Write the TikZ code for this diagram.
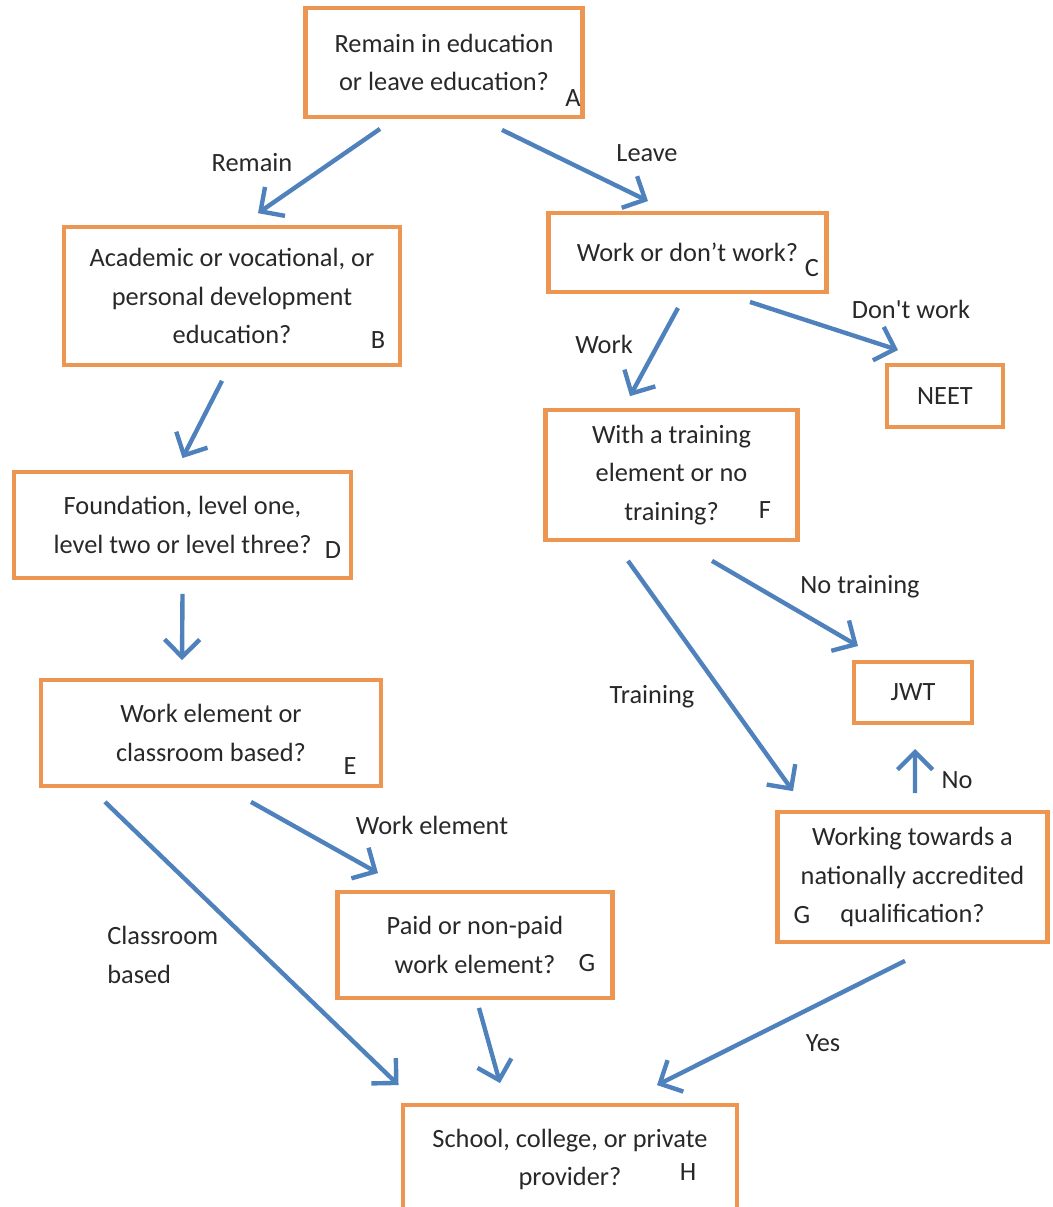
\documentclass[tikz,border=0pt]{standalone}
\usepackage{fontspec}
\setmainfont{Carlito}
\usetikzlibrary{arrows.meta}
\definecolor{BoxOrange}{RGB}{236,150,82}
\definecolor{ArrowBlue}{RGB}{79,129,189}
\definecolor{TextGray}{RGB}{40,40,40}
\tikzset{
	box/.style={draw=BoxOrange,line width=2.4pt,align=center,inner sep=0pt,
		text=TextGray,font=\fontsize{15}{22}\selectfont},
	tag/.style={text=TextGray,font=\fontsize{15}{22}\selectfont,inner sep=0pt},
	arr/.style={draw=ArrowBlue,line width=2.5pt,-{Straight Barb[length=10pt,width=20pt]}},
}
\begin{document}
\begin{tikzpicture}[x=0.02cm,y=-0.02cm]
	\useasboundingbox (0,0) rectangle (1053,1207);
	% boxes
	\node[box,minimum width=278*0.567pt,minimum height=109*0.567pt] (A) at (444,62.5) {Remain in education\\or leave education?};
	\node[box,minimum width=338*0.567pt,minimum height=138*0.567pt] (B) at (232,296) {Academic or vocational, or\\personal development\\education?};
	\node[box,minimum width=279*0.567pt,minimum height=79*0.567pt] (C) at (687.5,252.5) {Work or don’t work?};
	\node[box,minimum width=116*0.567pt,minimum height=62*0.567pt] (NEET) at (945,396) {NEET};
	\node[box,minimum width=339*0.567pt,minimum height=106*0.567pt] (D) at (182.5,525) {Foundation, level one,\\level two or level three?};
	\node[box,minimum width=253*0.567pt,minimum height=130*0.567pt] (F) at (671.5,475) {With a training\\element or no\\training?};
	\node[box,minimum width=342*0.567pt,minimum height=106*0.567pt] (E) at (211,733) {Work element or\\classroom based?};
	\node[box,minimum width=118*0.567pt,minimum height=61*0.567pt] (JWT) at (913,692.5) {JWT};
	\node[box,minimum width=271*0.567pt,minimum height=130*0.567pt] (Gr) at (912.5,877) {Working towards a\\nationally accredited\\qualification?};
	\node[box,minimum width=276*0.567pt,minimum height=106*0.567pt] (Gm) at (475,945) {Paid or non-paid\\work element?};
	\node[box,minimum width=336*0.567pt,minimum height=109*0.567pt] (H) at (570,1159.5) {School, college, or private\\provider?};
	% letters
	\node[tag] (lA) at (573,98) {A};
	\node[tag] (lB) at (378,340) {B};
	\node[tag] (lC) at (812,268) {C};
	\node[tag] (lD) at (333,550) {D};
	\node[tag] (lF) at (765,510) {F};
	\node[tag] (lE) at (350,766) {E};
	\node[tag] (lGr) at (802,915) {G};
	\node[tag] (lGm) at (587,963) {G};
	\node[tag] (lH) at (688,1172) {H};
	% arrows
	\draw[arr] ([shift={(-64,10)}]A.south) -- ([shift={(26,-12)}]B.north);
	\draw[arr] ([shift={(58,11)}]A.south) -- ([shift={(-39.5,-10)}]C.north);
	\draw[arr] ([shift={(-10,14)}]B.south) -- ([shift={(0,-12)}]D.north);
	\draw[arr] ([shift={(0,14)}]D.south) -- ([shift={(-29,-18)}]E.north);
	\draw[arr] ([shift={(-9.5,14)}]C.south) -- ([shift={(-41.5,-12)}]F.north);
	\draw[arr] ([shift={(62.5,8)}]C.south) -- ([shift={(-47,-13)}]NEET.north);
	\draw[arr] ([shift={(40.5,19)}]F.south) -- ([shift={(-55,-14)}]JWT.north);
	\draw[arr] ([shift={(-43.5,19)}]F.south) -- ([shift={(-119.5,-19)}]Gr.north);
	\draw[arr] ([shift={(2.5,-17)}]Gr.north) -- ([shift={(2,24)}]JWT.south);
	\draw[arr] ([shift={(40,14)}]E.south) -- ([shift={(-97,-17)}]Gm.north);
	\draw[arr] ([shift={(-106,14)}]E.south) -- ([shift={(-2,-18)}]H.north west);
	\draw[arr] ([shift={(4,8)}]Gm.south) -- ([shift={(-70,-20)}]H.north);
	\draw[arr] ([shift={(-7.5,17)}]Gr.south) -- ([shift={(87,-18)}]H.north);
	% arrow labels
	\node[tag] (tRemain) at (252,163) {Remain};
	\node[tag] (tLeave) at (647,153) {Leave};
	\node[tag] (tWork) at (604,344) {Work};
	\node[tag] (tDont) at (911,309) {Don\textquotesingle t work};
	\node[tag] (tNoTr) at (860,587) {No training};
	\node[tag] (tTr) at (652,697) {Training};
	\node[tag] (tNo) at (957,780) {No};
	\node[tag] (tWorkEl) at (432,825) {Work element};
	\node[tag,align=left,anchor=west] (tClass) at (107,955) {Classroom\\based};
	\node[tag] (tYes) at (823,1043) {Yes};
\end{tikzpicture}
\end{document}
